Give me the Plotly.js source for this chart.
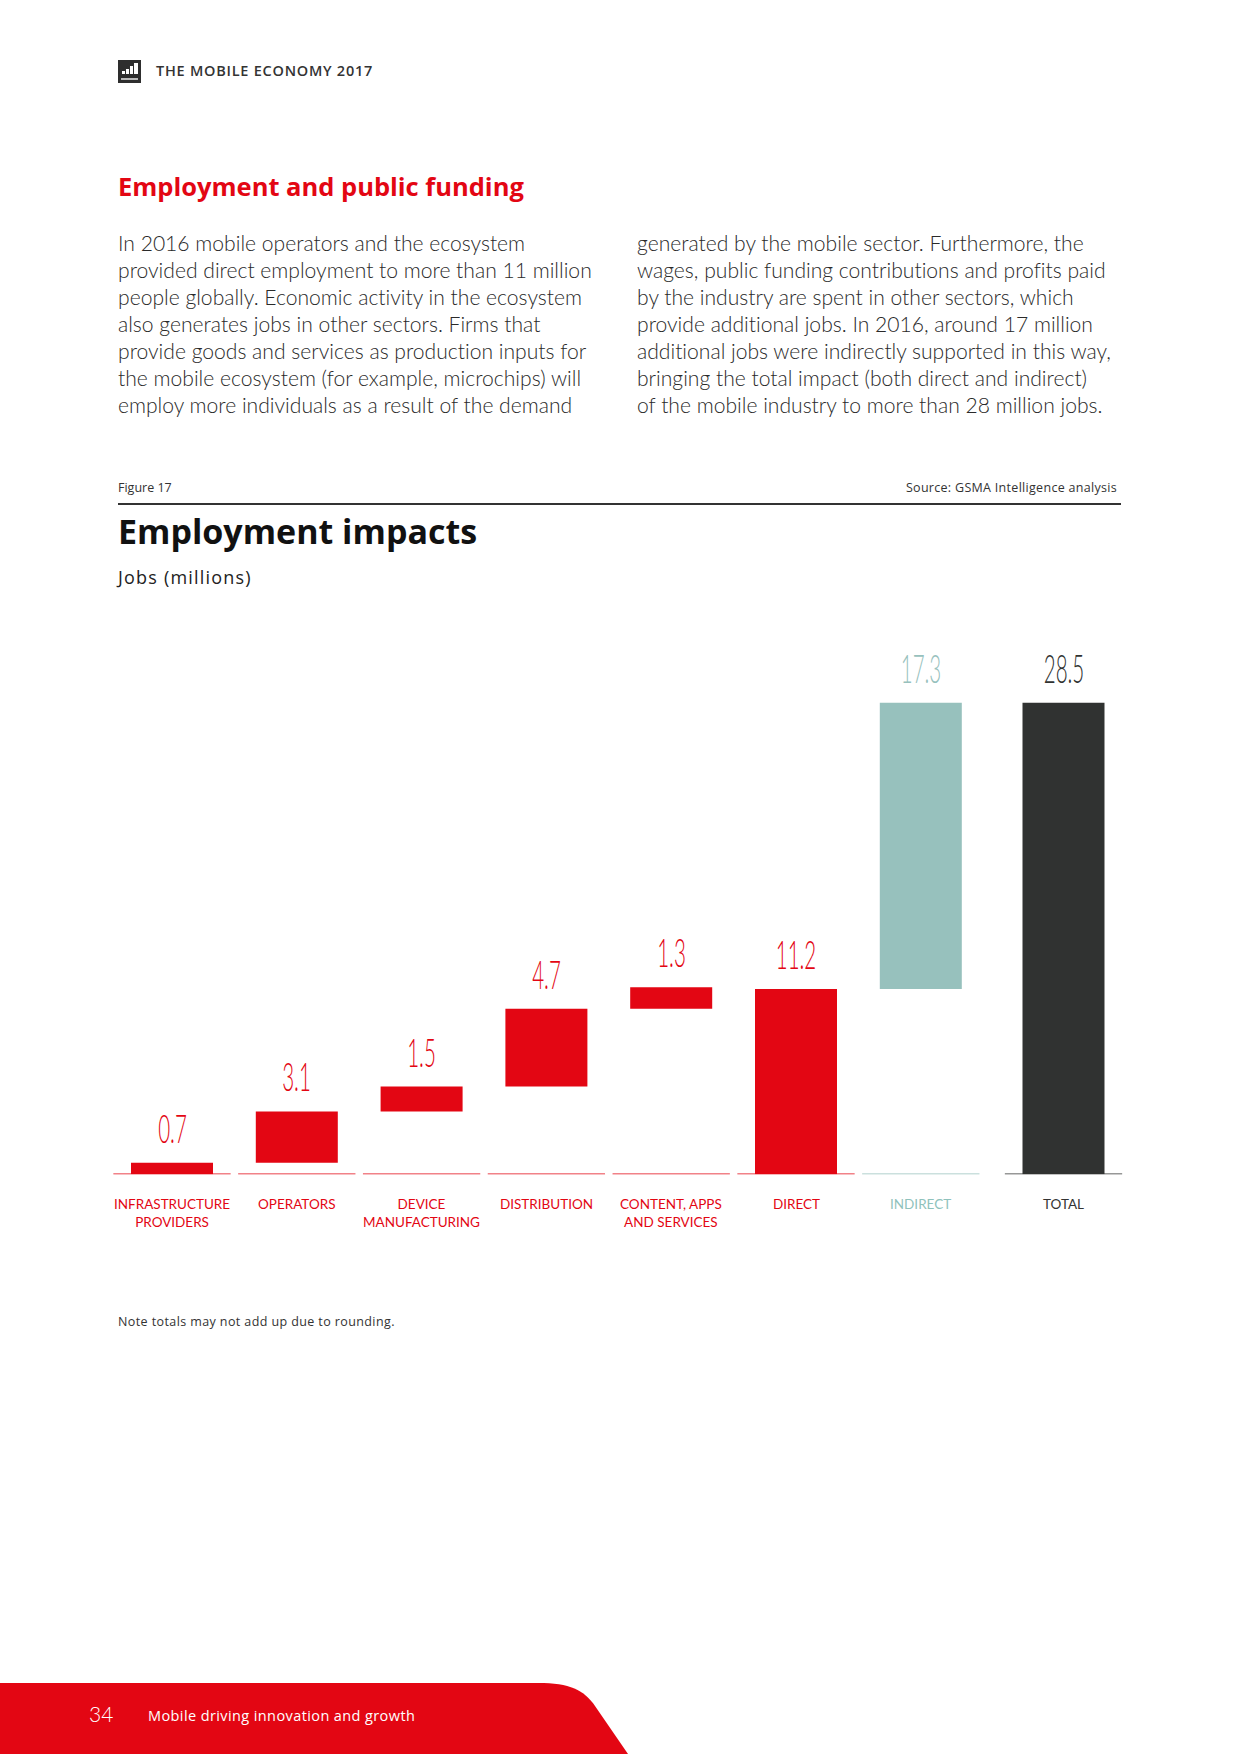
<!DOCTYPE html>
<html>
<head>
<meta charset="utf-8">
<script src="https://cdn.plot.ly/plotly-3.0.1.min.js"></script>
<style>
  html, body { margin:0; padding:0; background:#fff; }
  body { width:1240px; height:1754px; position:relative; overflow:hidden; font-family:"Lato","Open Sans",sans-serif; color:#2b2b2b; }
  .abs { position:absolute; white-space:nowrap; }
  #logo { left:118px; top:60px; width:23px; height:23px; background:#2e2e2e; }
  #logo i { position:absolute; background:#fff; bottom:9px; width:3px; }
  #logo b { position:absolute; left:3px; bottom:3px; width:17px; height:2px; background:#bbb; }
  #hdr { left:156px; top:61px; font-family:"Open Sans",sans-serif; font-weight:600; font-size:14.5px; letter-spacing:0.75px; color:#333; }
  #sec { left:118px; top:169px; font-family:"Open Sans",sans-serif; font-weight:700; font-size:25.5px; color:#e30613; }
  .col { top:229px; font-family:"Lato",sans-serif; font-weight:300; font-size:21.1px; line-height:27px; color:#2a2a2a; font-variant-ligatures:none; }
  #c1 { left:118px; } #c2 { left:637px; }
  #fig { left:118px; top:479px; font-family:"Open Sans",sans-serif; font-size:12.5px; color:#333; }
  #src { right:123px; top:479px; font-family:"Open Sans",sans-serif; font-size:12.5px; letter-spacing:0.3px; color:#333; }
  #rule { left:118px; top:503px; width:1003px; height:1.5px; background:#333; }
  #ttl { left:118px; top:508px; font-family:"Open Sans",sans-serif; font-weight:700; font-size:34px; color:#111; }
  #sub { left:118px; top:565px; font-family:"Open Sans",sans-serif; font-size:18px; letter-spacing:1.2px; color:#222; }
  #note { left:118px; top:1313px; font-family:"Open Sans",sans-serif; font-size:12.5px; letter-spacing:0.4px; color:#333; }
  #chart { position:absolute; left:0; top:560px; width:1240px; height:700px; }
  #foot { position:absolute; left:0; top:0; }
  #pg { left:89px; top:1701px; font-size:21px; font-weight:300; color:#fff; }
  #ft { left:148px; top:1706px; font-family:"Open Sans",sans-serif; font-size:14.5px; letter-spacing:0.4px; color:#fff; }
  #chart text.annotation-text[style*="39.5px"] { transform-box: fill-box; transform-origin: center; transform: scaleX(0.52); }
</style>
</head>
<body>
<svg id="foot" width="1240" height="1754"><path d="M0 1683 H538 C570 1683 584 1690 595 1706 L628 1754 H0 Z" fill="#e30613"/></svg>
<div id="logo" class="abs"><i style="left:4px;height:3px"></i><i style="left:8px;height:5px"></i><i style="left:12px;height:8px;width:3px"></i><i style="left:16px;height:11px;width:4px"></i><b></b></div>
<div id="hdr" class="abs">THE MOBILE ECONOMY 2017</div>
<div id="sec" class="abs">Employment and public funding</div>
<div id="c1" class="abs col">In 2016 mobile operators and the ecosystem<br>provided direct employment to more than 11 million<br>people globally. Economic activity in the ecosystem<br>also generates jobs in other sectors. Firms that<br>provide goods and services as production inputs for<br>the mobile ecosystem (for example, microchips) will<br>employ more individuals as a result of the demand</div>
<div id="c2" class="abs col">generated by the mobile sector. Furthermore, the<br>wages, public funding contributions and profits paid<br>by the industry are spent in other sectors, which<br>provide additional jobs. In 2016, around 17 million<br>additional jobs were indirectly supported in this way,<br>bringing the total impact (both direct and indirect)<br>of the mobile industry to more than 28 million jobs.</div>
<div id="fig" class="abs">Figure 17</div>
<div id="src" class="abs">Source: GSMA Intelligence analysis</div>
<div id="rule" class="abs"></div>
<div id="ttl" class="abs">Employment impacts</div>
<div id="sub" class="abs">Jobs (millions)</div>
<div id="chart"></div>
<div id="note" class="abs">Note totals may not add up due to rounding.</div>
<div id="pg" class="abs">34</div>
<div id="ft" class="abs">Mobile driving innovation and growth</div>

<script>
// ---- data ----
const categories = ["Infrastructure providers", "Operators", "Device manufacturing", "Distribution", "Content, apps and services", "Direct", "Indirect"];
const categoryLabels = ["INFRASTRUCTURE<br>PROVIDERS", "OPERATORS", "DEVICE<br>MANUFACTURING", "DISTRIBUTION", "CONTENT, APPS<br>AND SERVICES", "DIRECT", "INDIRECT"];
const values = [0.7, 3.1, 1.5, 4.7, 1.3, 11.2, 17.3];
const valueLabels = ["0.7", "3.1", "1.5", "4.7", "1.3", "11.2", "17.3"];
const measures = ["step", "step", "step", "step", "step", "subtotal", "step"];
const totalCategory = "Total";
const totalLabel = "TOTAL";
const totalValue = 28.5;
const totalValueLabel = "28.5";

// ---- styling ----
const RED = "#e30613", TEAL = "#97c1bd", DARK = "#303231";
const barColors = [RED, RED, RED, RED, RED, RED, TEAL];
const labelColors = [RED, RED, RED, RED, RED, RED, "#8fc2bc"];

// floating bases of the waterfall
const bases = [];
let running = 0;
values.forEach((v, i) => {
  if (measures[i] === "subtotal") { bases.push(0); running = v; }
  else { bases.push(running); running += v; }
});

const traces = [
  { type: "bar", x: categories, y: values, base: bases, xaxis: "x", yaxis: "y",
    marker: { color: barColors }, hoverinfo: "skip" },
  { type: "bar", x: [totalCategory], y: [totalValue], base: [0], xaxis: "x2", yaxis: "y",
    marker: { color: DARK }, hoverinfo: "skip" }
];

const numFont = { family: "Lato, sans-serif", size: 39.5, weight: 300 };
const catFont = { family: "Lato, Open Sans, sans-serif", size: 13.5, weight: 400 };

const annotations = [];
const shapes = [];
categories.forEach((c, i) => {
  annotations.push({ x: c, y: bases[i] + values[i], xref: "x", yref: "y", text: valueLabels[i],
    showarrow: false, yanchor: "bottom", yshift: 10, font: Object.assign({ color: barColors[i] }, numFont) });
  annotations.push({ x: c, y: 0, xref: "x", yref: "y", text: categoryLabels[i], showarrow: false,
    yanchor: "top", yshift: -20, font: Object.assign({ color: labelColors[i] }, catFont) });
  shapes.push({ type: "line", xref: "x", yref: "y", x0: i - 0.47, x1: i + 0.47, y0: 0, y1: 0,
    line: { color: barColors[i], width: 1.5 } });
});
annotations.push({ x: totalCategory, y: totalValue, xref: "x2", yref: "y", text: totalValueLabel,
  showarrow: false, yanchor: "bottom", yshift: 10, font: Object.assign({ color: DARK }, numFont) });
annotations.push({ x: totalCategory, y: 0, xref: "x2", yref: "y", text: totalLabel, showarrow: false,
  yanchor: "top", yshift: -20, font: Object.assign({ color: "#333" }, catFont) });
shapes.push({ type: "line", xref: "x2", yref: "y", x0: -0.47, x1: 0.47, y0: 0, y1: 0,
  line: { color: DARK, width: 1.5 } });

const layout = {
  width: 1240, height: 700,
  margin: { l: 0, r: 0, t: 0, b: 0 },
  paper_bgcolor: "rgba(0,0,0,0)", plot_bgcolor: "rgba(0,0,0,0)",
  showlegend: false, bargap: 0.343,
  xaxis: { type: "category", domain: [109.6 / 1240, 983.2 / 1240], range: [-0.5, 6.5],
    showticklabels: false, showgrid: false, zeroline: false, showline: false, ticks: "" },
  xaxis2: { type: "category", domain: [1001.1 / 1240, 1125.9 / 1240], range: [-0.5, 0.5], anchor: "y",
    showticklabels: false, showgrid: false, zeroline: false, showline: false, ticks: "" },
  yaxis: { range: [0, 30], domain: [0.12243, 0.83157], showticklabels: false, showgrid: false,
    zeroline: false, showline: false, ticks: "" },
  annotations: annotations,
  shapes: shapes
};

Plotly.newPlot("chart", traces, layout, { displayModeBar: false, staticPlot: true });
</script>
</body>
</html>
